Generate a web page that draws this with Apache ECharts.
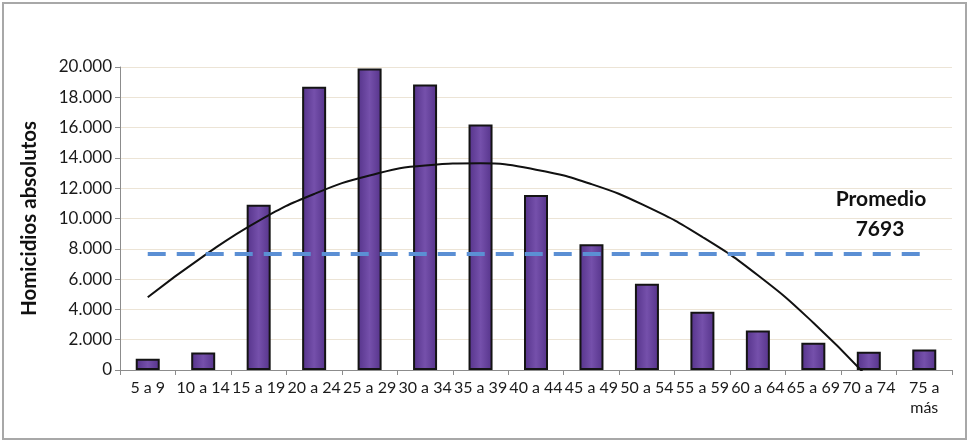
<!DOCTYPE html>
<html>
<head>
<meta charset="utf-8">
<script src="https://cdn.jsdelivr.net/npm/echarts@6/dist/echarts.min.js"></script>
<style>
  html, body { margin: 0; padding: 0; background: #fff; }
  #chart { width: 970px; height: 443px; }
</style>
</head>
<body>
<div id="chart"></div>
<script>
// grupos de edad
const categories = ['5 a 9', '10 a 14', '15 a 19', '20 a 24', '25 a 29', '30 a 34', '35 a 39',
  '40 a 44', '45 a 49', '50 a 54', '55 a 59', '60 a 64', '65 a 69', '70 a 74', '75 a\nmás'];
// homicidios absolutos por grupo
const homicidios = [750, 1150, 10900, 18700, 19900, 18850, 16200, 11550, 8300, 5700, 3850, 2600, 1800, 1200, 1350];
// linea de tendencia
const tendencia = [4800, 7500, 9850, 11620, 12840, 13500, 13640, 13220, 12270, 10780, 8780, 6250, 3120, -560, null];
const promedio = 7693;
const yTicks = { min: 0, max: 20000, interval: 2000 };

const fuente = 'Lato, "Open Sans", sans-serif';

const chart = echarts.init(document.getElementById('chart'));

const option = {
  backgroundColor: '#fff',
  animation: false,
  grid: { left: 120, right: 18, top: 67, bottom: 73 },
  xAxis: {
    type: 'category',
    data: categories,
    axisLine: { lineStyle: { color: '#8c8c8c', width: 1 } },
    axisTick: { show: true, length: 5, lineStyle: { color: '#8c8c8c' } },
    axisLabel: { interval: 0, color: '#1a1a1a', fontSize: 16, fontFamily: fuente, margin: 8, lineHeight: 20 }
  },
  yAxis: {
    type: 'value',
    min: yTicks.min,
    max: yTicks.max,
    interval: yTicks.interval,
    name: 'Homicidios absolutos',
    nameLocation: 'middle',
    nameGap: 80,
    nameTextStyle: { fontSize: 20.5, fontWeight: 'bold', color: '#111', fontFamily: fuente },
    axisLine: { show: true, lineStyle: { color: '#8c8c8c' } },
    axisTick: { show: true, length: 5, lineStyle: { color: '#8c8c8c' } },
    axisLabel: {
      color: '#1a1a1a', fontSize: 17, fontFamily: fuente, margin: 8,
      formatter: v => v.toLocaleString('de-DE')
    },
    splitLine: { lineStyle: { color: '#ece4d6', width: 1 } }
  },
  series: [
    {
      type: 'bar',
      data: homicidios,
      barWidth: 24,
      itemStyle: {
        color: new echarts.graphic.LinearGradient(0, 0, 1, 0, [
          { offset: 0, color: '#55338a' },
          { offset: 0.5, color: '#7550ab' },
          { offset: 1, color: '#55338a' }
        ]),
        borderColor: '#141414',
        borderWidth: 2
      },
      markLine: {
        silent: true,
        symbol: 'none',
        label: { show: false },
        lineStyle: { color: '#5b8fd4', width: 4, type: [18, 11] },
        data: [[{ coord: [0, promedio] }, { coord: [categories.length - 1, promedio] }]]
      },
      z: 2
    },
    {
      type: 'line',
      data: tendencia,
      smooth: true,
      symbol: 'none',
      clip: true,
      lineStyle: { color: '#111', width: 2 },
      z: 4
    }
  ],
  graphic: [
    {
      type: 'rect',
      shape: { x: 3, y: 3, width: 963, height: 436 },
      style: { fill: 'none', stroke: '#a8a8a8', lineWidth: 2 },
      silent: true
    },
    {
      type: 'text',
      x: 881,
      y: 199,
      style: {
        text: 'Promedio',
        fontSize: 21,
        fontWeight: 'bold',
        fontFamily: fuente,
        fill: '#111',
        textAlign: 'center',
        textVerticalAlign: 'middle'
      }
    },
    {
      type: 'text',
      x: 880,
      y: 229,
      style: {
        text: String(promedio),
        fontSize: 21,
        fontWeight: 'bold',
        fontFamily: fuente,
        fill: '#111',
        textAlign: 'center',
        textVerticalAlign: 'middle'
      }
    }
  ]
};

chart.setOption(option);
</script>
</body>
</html>
